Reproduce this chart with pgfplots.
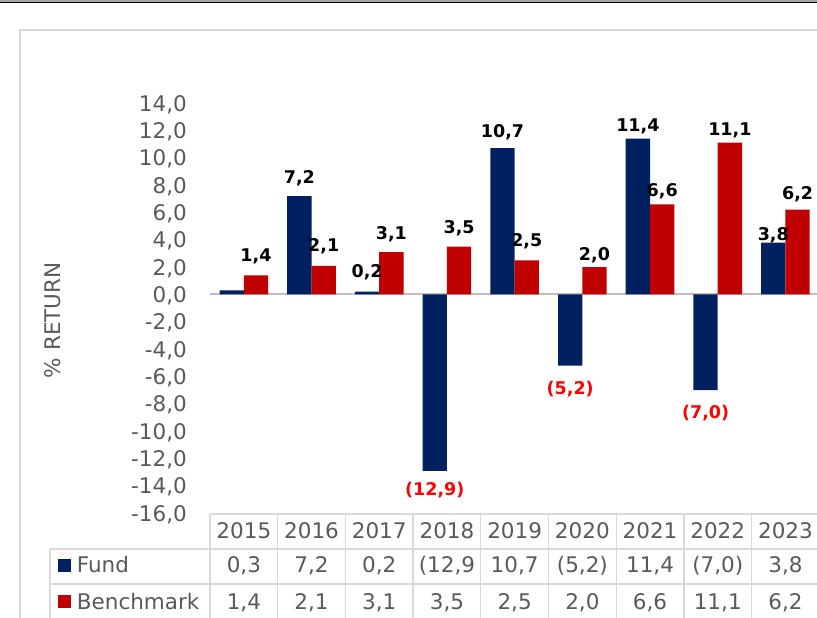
\documentclass[border=0pt]{standalone}
\usepackage{fontspec}
\setmainfont{DejaVu Sans}
\usepackage{pgfplots}
\usepackage{pgfplotstable}
\pgfplotsset{compat=1.18}
\definecolor{navy}{HTML}{002060}
\definecolor{bred}{HTML}{C00000}
\definecolor{labred}{HTML}{FF0000}
\definecolor{txtgray}{HTML}{595959}
\definecolor{gridgray}{HTML}{D9D9D9}
\definecolor{axgray}{HTML}{BFBFBF}

\pgfplotstableread{
x year fund bench flab blab fdy bdy
0 2015 0.3 1.4 {} 1,4 0 13.3
1 2016 7.2 2.1 7,2 2,1 12.7 13.7
2 2017 0.2 3.1 0,2 3,1 13.7 12.7
3 2018 -12.9 3.5 (12,9) 3,5 -24.5 13.3
4 2019 10.7 2.5 10,7 2,5 10.7 14
5 2020 -5.2 2.0 (5,2) 2,0 -29.5 6.5
6 2021 11.4 6.6 11,4 6,6 7.3 8
7 2022 -7.0 11.1 (7,0) 11,1 -28.8 6.6
8 2023 3.8 6.2 3,8 6,2 2 10
}\data

\newcommand{\tabfont}{\fontsize{21.5}{24}\selectfont}
\newcommand{\labfont}{\bfseries\fontsize{17.5}{20}\selectfont}

\begin{document}
\begin{tikzpicture}[x=1pt,y=1pt]
\path[use as bounding box] (0,0) rectangle (817,618);
\clip (0,0) rectangle (817,618);
% top double rule
\fill[black!35] (0,618) rectangle (817,616.3);
\fill[black] (0,616.3) rectangle (817,614.7);
% chart frame
\draw[gridgray, line width=1.3pt] (20,-5) -- (20,588) -- (840,588);

\begin{axis}[
  at={(210pt,104.8pt)}, anchor=south west,
  scale only axis, width=609.3pt, height=410.1pt,
  xmin=-0.5, xmax=8.5, ymin=-16, ymax=14,
  clip=false,
  axis line style={draw=none},
  tick style={draw=none},
  major tick length=0pt,
  ytick={-16,-14,...,14},
  xtick={0,...,8},
  xticklabels={2015,2016,2017,2018,2019,2020,2021,2022,2023},
  xticklabel style={anchor=base, yshift=-25.8pt, font=\tabfont, text=txtgray},
  yticklabel style={anchor=east, inner sep=0pt, xshift=-23pt, text depth=0pt,
    font=\tabfont, text=txtgray,
    /pgf/number format/.cd, fixed, fixed zerofill, precision=1, use comma,
    1000 sep={}, assume math mode=true},
]
\draw[axgray, line width=2pt] (axis cs:-0.5,0) -- (axis cs:8.6,0);
\addplot[ybar, bar width=24.3pt, bar shift=-12.15pt, fill=navy, draw=none]
  table[x=x, y=fund]{\data};
\addplot[ybar, bar width=24.3pt, bar shift=12.15pt, fill=bred, draw=none]
  table[x=x, y=bench]{\data};
% data labels
\addplot[draw=none, no markers, restrict y to domain=0:100,
  nodes near coords, point meta=explicit symbolic,
  visualization depends on={\thisrow{fdy} \as \dy},
  every node near coord/.append style={anchor=south, xshift=-12.15pt, yshift=\dy pt,
    inner sep=0pt, text height=12.76pt, text depth=0pt, font=\labfont, text=black}]
  table[x=x, y=fund, meta=flab]{\data};
\addplot[draw=none, no markers, restrict y to domain=-100:0,
  nodes near coords, point meta=explicit symbolic,
  visualization depends on={\thisrow{fdy} \as \dy},
  every node near coord/.append style={anchor=south, xshift=-12.15pt, yshift=\dy pt,
    inner sep=0pt, text height=12.76pt, text depth=0pt, font=\labfont, text=labred}]
  table[x=x, y=fund, meta=flab]{\data};
\addplot[draw=none, no markers,
  nodes near coords, point meta=explicit symbolic,
  visualization depends on={\thisrow{bdy} \as \dy},
  every node near coord/.append style={anchor=south, xshift=12.15pt, yshift=\dy pt,
    inner sep=0pt, text height=12.76pt, text depth=0pt, font=\labfont, text=black}]
  table[x=x, y=bench, meta=blab]{\data};
\end{axis}

% y axis title
\node[rotate=90, font=\tabfont, text=txtgray, inner sep=0pt] at (52.8,297.7) {\% RETURN};

% data table grid
\begin{scope}[gridgray, line width=1.3pt]
\draw (210,104) -- (830,104);
\draw (50,69) -- (830,69);
\draw (50,34) -- (830,34);
\draw (50,69) -- (50,-5);
\foreach \k in {0,...,9} { \draw ({210+67.7*\k},104) -- ({210+67.7*\k},-5); }
\end{scope}
% legend keys and row names
\fill[navy] (57.7,46) rectangle (71.3,59.3);
\fill[bred] (57.7,9.7) rectangle (71.3,23);
\node[anchor=base west, inner sep=0pt, font=\tabfont, text=txtgray] at (76.7,45.3) {Fund};
\node[anchor=base west, inner sep=0pt, font=\tabfont, text=txtgray] at (76.7,8.7) {Benchmark};
% table values
\foreach \v [count=\i from 0] in {{0,3},{7,2},{0,2},{(12,9},{10,7},{(5,2)},{11,4},{(7,0)},{3,8}} {
  \node[anchor=base, inner sep=0pt, font=\tabfont, text=txtgray] at ({210+67.7*(\i+0.5)},45.3) {\v};
}
\foreach \v [count=\i from 0] in {{1,4},{2,1},{3,1},{3,5},{2,5},{2,0},{6,6},{11,1},{6,2}} {
  \node[anchor=base, inner sep=0pt, font=\tabfont, text=txtgray] at ({210+67.7*(\i+0.5)},8.7) {\v};
}
\end{tikzpicture}
\end{document}
